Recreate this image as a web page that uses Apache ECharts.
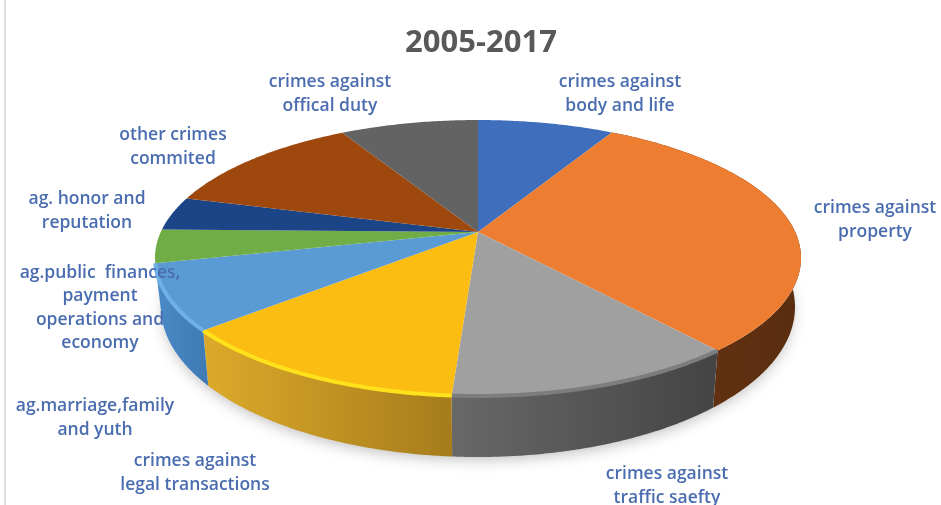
<!DOCTYPE html>
<html>
<head>
<meta charset="utf-8">
<style>html,body{margin:0;padding:0;background:#fff}#chart{width:941px;height:505px}</style>
<script src="https://cdn.jsdelivr.net/npm/echarts@6/dist/echarts.min.js"></script>
</head>
<body>
<div id="chart"></div>
<script>
// Share of crimes by category, clockwise from twelve o'clock
const categories = [
  'crimes against\nbody and life',
  'crimes against\nproperty',
  'crimes against\ntraffic saefty',
  'crimes against\nlegal transactions',
  'ag.public  finances,\npayment\noperations and\neconomy',
  'ag.marriage,family\nand yuth',
  'ag. honor and\nreputation',
  'other crimes\ncommited',
  'crimes against\noffical duty'
];
const sliceValues = [6.8, 29.9, 14.6, 14.9, 8.2, 3.9, 3.8, 11.0, 6.9];

const topColors = ['#3f6fbc', '#ed7d31', '#a0a0a0', '#fbbd12', '#5b9bd5', '#70ad47', '#1c4587', '#9e480e', '#636363'];
const wallLeftColors = ['#2f5597', '#6a3410', '#686868', '#dcaa2a', '#4a8ac6', '#5a8c3a', '#163a6c', '#7a380c', '#4a4a4a'];
const wallRightColors = ['#2f5597', '#5a2d10', '#444444', '#a67c1c', '#3f7ab4', '#5a8c3a', '#163a6c', '#7a380c', '#4a4a4a'];
const rimColors = [null, null, '#7d7d7d', '#ffe21c', '#70b0e8', null, null, null, null];
// Label centres in pixels, one row per category
const labelCentres = [[620, 94], [875, 220], [667, 486], [195, 473], [100, 308], [95, 418], [87, 211], [173, 147], [330, 94]];

// Perspective geometry of the disc
const topFace = { cx: 478, cy: 258, rx: 323, ry: 138 };
const bottomFace = { cx: 478, cy: 307, rx: 317, ry: 150 };
const apex = [478, 232];

const total = sliceValues.reduce((a, b) => a + b, 0);
const startAngles = [];
sliceValues.reduce((sum, v, i) => { startAngles[i] = sum / total * 360; return sum + v; }, 0);

function onFace(face, deg) {
  const t = deg * Math.PI / 180;
  return [face.cx + face.rx * Math.sin(t), face.cy - face.ry * Math.cos(t)];
}
function arc(face, from, to) {
  const pts = [];
  const n = Math.max(2, Math.ceil(Math.abs(to - from) * 2));
  for (let k = 0; k <= n; k++) pts.push(onFace(face, from + (to - from) * k / n));
  return pts;
}
function range(i) {
  const from = startAngles[i];
  return [from, from + sliceValues[i] / total * 360];
}

// Side wall of the disc; slices on the far rim stay hidden behind the top face
function renderWall(params, api) {
  const i = api.value(0);
  const [from, to] = range(i);
  if (to < 70 || from > 265) return { type: 'group', children: [] };
  const upper = arc(topFace, from, to);
  const lower = arc(bottomFace, from, to).reverse();
  const pts = upper.concat(lower);
  const xs = pts.map(p => p[0]);
  return {
    type: 'polygon',
    shape: { points: pts },
    style: {
      fill: {
        type: 'linear', global: true,
        x: Math.min(...xs), y: 0, x2: Math.max(...xs), y2: 0,
        colorStops: [
          { offset: 0, color: wallLeftColors[i] },
          { offset: 1, color: wallRightColors[i] }
        ]
      }
    }
  };
}

function renderTop(params, api) {
  const i = api.value(0);
  const [from, to] = range(i);
  const children = [{
    type: 'polygon',
    shape: { points: [apex].concat(arc(topFace, from, to)) },
    style: { fill: topColors[i] }
  }];
  if (rimColors[i]) {
    children.push({
      type: 'polyline',
      shape: { points: arc(topFace, from, to) },
      style: { fill: null, stroke: rimColors[i], lineWidth: 4 }
    });
  }
  return { type: 'group', children };
}

function renderLabel(params, api) {
  const i = api.value(0);
  return {
    type: 'text',
    x: labelCentres[i][0],
    y: labelCentres[i][1],
    style: {
      text: categories[i],
      fill: '#4a6db0',
      font: '600 17.5px "Open Sans"',
      lineHeight: 23.5,
      align: 'center',
      verticalAlign: 'middle'
    }
  };
}

const rows = sliceValues.map((v, i) => [i, v]);
const chart = echarts.init(document.getElementById('chart'), null, { renderer: 'canvas' });
chart.setOption({
  animation: false,
  backgroundColor: '#fff',
  title: {
    text: '2005-2017',
    left: 476, top: 23,
    textAlign: 'center',
    textStyle: { color: '#595959', fontSize: 31, fontWeight: 'bold', fontFamily: '"Open Sans"' }
  },
  graphic: [
    { type: 'rect', left: 4, top: 0, shape: { width: 2, height: 505 }, style: { fill: '#dddddd' }, silent: true },
    {
      type: 'ellipse', z: 0,
      x: bottomFace.cx, y: bottomFace.cy,
      shape: { cx: 0, cy: 0, rx: bottomFace.rx - 4, ry: bottomFace.ry - 4 },
      style: { fill: '#fff', shadowColor: 'rgba(0,0,0,0.3)', shadowBlur: 16, shadowOffsetY: 5 },
      silent: true
    }
  ],
  series: [
    { type: 'custom', coordinateSystem: 'none', z: 2, silent: true, data: rows, renderItem: renderWall },
    { type: 'custom', coordinateSystem: 'none', z: 3, silent: true, data: rows, renderItem: renderTop },
    { type: 'custom', coordinateSystem: 'none', z: 4, silent: true, data: rows, renderItem: renderLabel }
  ]
});
</script>
</body>
</html>
